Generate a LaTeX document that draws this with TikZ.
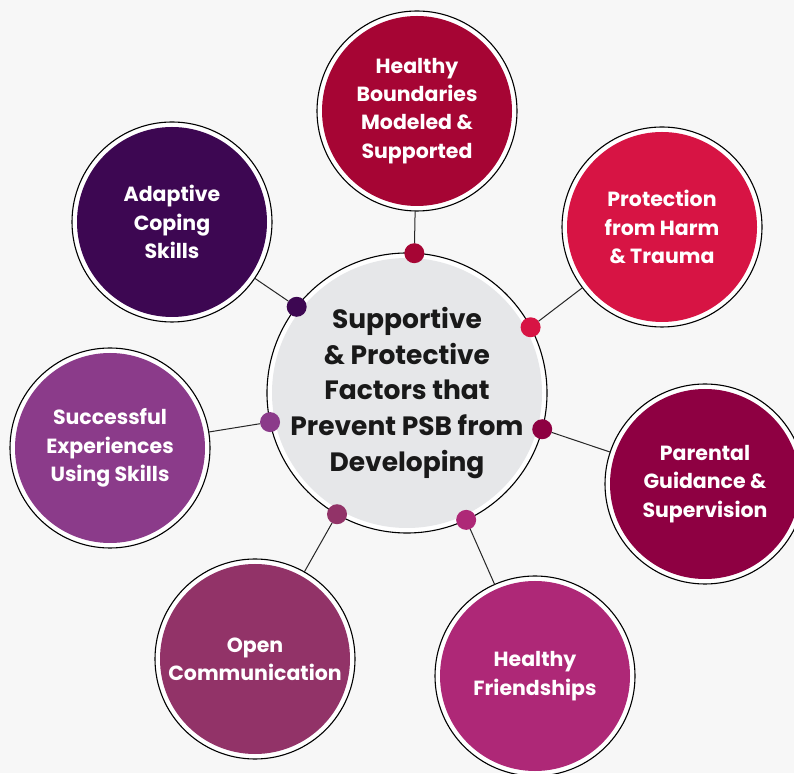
\documentclass[tikz,border=0pt]{standalone}
\usepackage{fontspec}
\setmainfont{Poppins}
\usetikzlibrary{positioning}

\definecolor{pageGrey}{RGB}{247,247,247}
\definecolor{hubGrey}{RGB}{230,231,233}
\definecolor{boundRed}{RGB}{166,5,52}
\definecolor{harmRed}{RGB}{215,20,68}
\definecolor{guideWine}{RGB}{142,0,66}
\definecolor{friendPink}{RGB}{174,40,119}
\definecolor{talkPlum}{RGB}{146,51,104}
\definecolor{skillPurple}{RGB}{139,59,138}
\definecolor{copeViolet}{RGB}{61,7,82}

\begin{document}
\begin{tikzpicture}[x = 1pt, y = 1pt,
    factor/.style = {circle, draw = black, line width = 1.1pt, fill = white, minimum size = 200pt, inner sep = 0pt, outer sep = 0pt, align = center, text = white, font = \fontsize{20.5}{28.3}\selectfont\bfseries, path picture = {\fill[#1] (path picture bounding box.center) circle (95pt);}},
    hub/.style = {circle, draw = black, line width = 1.1pt, fill = white, minimum size = 280pt, inner sep = 0pt, outer sep = 0pt, path picture = {\fill[hubGrey] (path picture bounding box.center) circle (135pt);}},
    hubtext/.style = {align = center, text = black!90, font = \fontsize{26.5}{35.7}\selectfont\bfseries},
    knob/.style = {circle, fill = #1, minimum size = 20pt, inner sep = 0pt, outer sep = 0pt},
    link/.style = {draw = black!85, line width = 1pt}]
  \fill[pageGrey] (0,0) rectangle (794,773);
  \useasboundingbox (0,0) rectangle (794,773);

  \node[hub] (core) at (407,380) {};
  \node[hubtext] (title) at (core) {Supportive\\ \& Protective\\ Factors that\\ Prevent PSB from\\ Developing};

  \node[factor = boundRed]    (bound) at (417,662) {Healthy\\ Boundaries\\ Modeled \&\\ Supported};
  \node[factor = harmRed]     (harm)  at (662,546) {Protection\\ from Harm\\ \& Trauma};
  \node[factor = guideWine]   (guide) at (705,289) {Parental\\ Guidance \&\\ Supervision};
  \node[factor = friendPink]  (friend) at (535,97) {Healthy\\ Friendships};
  \node[factor = talkPlum]    (talk)  at (255,114) {Open\\ Communication};
  \node[factor = skillPurple] (skill) at (110,325) {Successful\\ Experiences\\ Using Skills};
  \node[factor = copeViolet]  (cope)  at (172,551) {Adaptive\\ Coping\\ Skills};

  % knobs on the rim of the hub
  \foreach \ang/\col/\who in {87/boundRed/bound, 28.5/harmRed/harm, -15.7/guideWine/guide, -65.5/friendPink/friend, 240.7/talkPlum/talk, 192.4/skillPurple/skill, 142/copeViolet/cope}
    \node[knob = \col] (k-\who) at (core.\ang) {};

  \path[link] (k-bound) edge (bound)
              (k-harm) edge (harm)
              (k-guide) edge (guide)
              (k-friend) edge (friend)
              (k-talk) edge (talk)
              (k-skill) edge (skill)
              (k-cope) edge (cope);
\end{tikzpicture}
\end{document}
